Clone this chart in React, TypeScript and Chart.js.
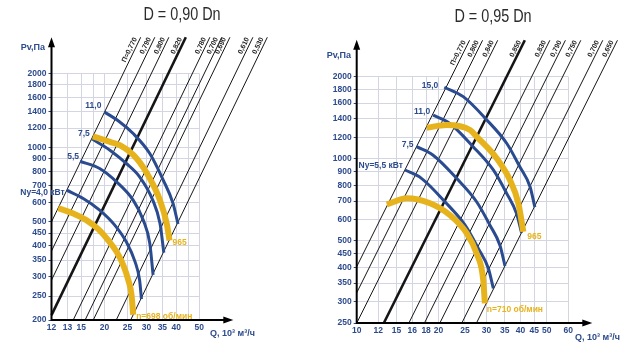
import React, { useEffect, useRef } from "react";
import { Chart, registerables } from "chart.js";
Chart.register(...registerables);

// ================= LEFT PANEL: D = 0,90 Dn =================
const leftTitle = "D = 0,90 Dn";
const leftXTicks = [12, 14, 16, 18, 20, 25, 30, 35, 40, 45, 50];
const leftXTickLabels = ["12", "13", "15", "", "20", "25", "30", "35", "40", "", "50"];
const leftYTicks = [200, 250, 300, 350, 400, 450, 500, 600, 700, 800, 900, 1000, 1200, 1400, 1600, 1800, 2000];
// efficiency rays: flow (10^3 m3/h) where each ray crosses Pv = 2000 Pa
const leftRayLabels = ["П=0,770", "0,790", "0,800", "0,820", "0,780", "0,700", "0,690", "0,610", "0,530"];
const leftRayQ2000 = [24.0, 27.5, 31.5, 37.1, 46.8, 52.5, 56.8, 70.9, 81.5];
const leftRayBold = 3;
const leftRayTopP = 2800;
// speed curves
const leftN698Q = [12.8, 14.8, 16.8, 18.9, 20.7, 22.5, 24.0, 25.2, 26.0, 26.4];
const leftN698P = [568, 541, 508, 466, 422, 378, 334, 290, 252, 210];
const leftN965Q = [17.9, 21.1, 23.2, 27.3, 31.0, 34.2, 36.5, 37.5];
const leftN965P = [1110, 1054, 1022, 903, 750, 612, 493, 420];
// power curves
const leftN110Q = [20.0, 23.2, 26.4, 31.0, 35.3, 38.8, 40.7];
const leftN110P = [1395, 1270, 1140, 946, 738, 594, 490];
const leftN75Q = [17.7, 21.1, 24.7, 28.1, 31.9, 34.2, 35.5];
const leftN75P = [1085, 976, 862, 761, 612, 493, 375];
const leftN55Q = [15.8, 19.1, 22.5, 26.4, 29.1, 31.0, 32.0];
const leftN55P = [880, 823, 726, 612, 508, 409, 305];
const leftN40Q = [13.9, 16.3, 19.1, 22.1, 24.7, 26.9, 28.1, 28.6];
const leftN40P = [672, 622, 558, 485, 415, 344, 290, 243];

// ================= RIGHT PANEL: D = 0,95 Dn =================
const rightTitle = "D = 0,95 Dn";
const rightXTicks = [10, 12, 14, 16, 18, 20, 25, 30, 35, 40, 45, 50, 60];
const rightXTickLabels = ["10", "12", "15", "16", "18", "20", "25", "30", "35", "40", "45", "50", "60"];
const rightYTicks = [250, 300, 350, 400, 450, 500, 600, 700, 800, 900, 1000, 1200, 1400, 1600, 1800, 2000];
const rightRayLabels = ["П=0,770", "0,800", "0,840", "0,850", "0,830", "0,790", "0,750", "0,700", "0,650"];
const rightRayQ2000 = [22.3, 24.9, 28.3, 35.6, 44.0, 50.2, 57.2, 68.9, 78.0];
const rightRayBold = 3;
const rightRayTopP = 2720;
const rightN710Q = [12.9, 15.3, 18.6, 22.0, 25.4, 27.6, 29.2, 29.6];
const rightN710P = [680, 717, 687, 622, 533, 450, 359, 295];
const rightN965Q = [18.1, 21.4, 26.1, 27.6, 32.7, 36.6, 39.3, 41.0];
const rightN965P = [1300, 1330, 1275, 1206, 1005, 836, 687, 540];
const rightN150Q = [21.0, 24.65, 30.1, 35.6, 39.8, 43.4, 45.2];
const rightN150P = [1830, 1690, 1388, 1140, 935, 790, 665];
const rightN110Q = [19.1, 22.0, 26.8, 31.8, 35.6, 38.7, 40.4];
const rightN110P = [1447, 1348, 1108, 910, 747, 630, 535];
const rightN75Q = [16.6, 19.1, 23.3, 27.6, 30.9, 33.6, 35.1];
const rightN75P = [1108, 1031, 848, 696, 571, 483, 405];
const rightN55Q = [15.05, 17.3, 21.1, 25.0, 28.0, 30.5, 31.8];
const rightN55P = [910, 848, 696, 572, 469, 396, 335];

// ================= styles =================
const NAVY = "#2d4b8c";
const BLUE = "#2a4b8f";
const YELLOW = "#e7b31d";
const GRID = "#d3d6e2";
const INK = "#151515";
const FONT = "'Liberation Sans', Arial, sans-serif";

type Curve = {
  q: number[]; p: number[]; label: string; color: string; width: number;
  anchor: "start" | "end"; dx: number; dy: number; align: CanvasTextAlign;
};

type Panel = {
  xMin: number; xMax: number; yMin: number; yMax: number;
  xTicks: number[]; xTickLabels: string[]; yTicks: number[];
  rayLabels: string[]; rayQ2000: number[]; rayBold: number; rayTopP: number;
  curves: Curve[];
  title: string; titleX: number; titleY: number;
  area: { left: number; top: number; right: number; bottom: number };
  yArrow: number; xArrow: number;
  qTitleX: number; qTitleY: number; pTitleX: number; pTitleY: number;
};

const leftPanel: Panel = {
  xMin: 12, xMax: 50, yMin: 200, yMax: 2000,
  xTicks: leftXTicks, xTickLabels: leftXTickLabels, yTicks: leftYTicks,
  rayLabels: leftRayLabels, rayQ2000: leftRayQ2000, rayBold: leftRayBold, rayTopP: leftRayTopP,
  curves: [
    { q: leftN698Q, p: leftN698P, label: "n=698 об/мин", color: YELLOW, width: 6, anchor: "end", dx: 3, dy: 2, align: "left" },
    { q: leftN965Q, p: leftN965P, label: "965", color: YELLOW, width: 6, anchor: "end", dx: 3, dy: 2, align: "left" },
    { q: leftN110Q, p: leftN110P, label: "11,0", color: BLUE, width: 3, anchor: "start", dx: -3, dy: -6, align: "right" },
    { q: leftN75Q, p: leftN75P, label: "7,5", color: BLUE, width: 3, anchor: "start", dx: -2, dy: -5, align: "right" },
    { q: leftN55Q, p: leftN55P, label: "5,5", color: BLUE, width: 3, anchor: "start", dx: -1, dy: -5, align: "right" },
    { q: leftN40Q, p: leftN40P, label: "Ny=4,0 кВт", color: BLUE, width: 3, anchor: "start", dx: -2, dy: 3, align: "right" },
  ],
  title: leftTitle, titleX: 182, titleY: 15,
  area: { left: 51.5, top: 73.3, right: 199.3, bottom: 320 },
  yArrow: 36, xArrow: 34,
  qTitleX: 210, qTitleY: 334, pTitleX: 45, pTitleY: 48,
};

const rightPanel: Panel = {
  xMin: 10, xMax: 60, yMin: 250, yMax: 2000,
  xTicks: rightXTicks, xTickLabels: rightXTickLabels, yTicks: rightYTicks,
  rayLabels: rightRayLabels, rayQ2000: rightRayQ2000, rayBold: rightRayBold, rayTopP: rightRayTopP,
  curves: [
    { q: rightN710Q, p: rightN710P, label: "n=710 об/мин", color: YELLOW, width: 6, anchor: "end", dx: 2, dy: 6, align: "left" },
    { q: rightN965Q, p: rightN965P, label: "965", color: YELLOW, width: 6, anchor: "end", dx: 4, dy: 5, align: "left" },
    { q: rightN150Q, p: rightN150P, label: "15,0", color: BLUE, width: 3, anchor: "start", dx: -6, dy: -2, align: "right" },
    { q: rightN110Q, p: rightN110P, label: "11,0", color: BLUE, width: 3, anchor: "start", dx: -3, dy: -3, align: "right" },
    { q: rightN75Q, p: rightN75P, label: "7,5", color: BLUE, width: 3, anchor: "start", dx: -3, dy: -2, align: "right" },
    { q: rightN55Q, p: rightN55P, label: "Ny=5,5 кВт", color: BLUE, width: 3, anchor: "start", dx: -2, dy: -4, align: "right" },
  ],
  title: rightTitle, titleX: 173, titleY: 17,
  area: { left: 36.7, top: 76.7, right: 248.3, bottom: 323 },
  yArrow: 37, xArrow: 24,
  qTitleX: 255, qTitleY: 338, pTitleX: 31, pTitleY: 56,
};

function rayEnds(q2000: number, panel: Panel) {
  const pAtMin = 2000 * Math.pow(panel.xMin / q2000, 2);
  const start = pAtMin >= panel.yMin
    ? { x: panel.xMin, y: pAtMin }
    : { x: q2000 * Math.sqrt(panel.yMin / 2000), y: panel.yMin };
  const end = { x: q2000 * Math.sqrt(panel.rayTopP / 2000), y: panel.rayTopP };
  return [start, end];
}

function makeExtras(panel: Panel) {
  return {
    id: "extras",
    afterDraw(chart: any) {
      const ctx: CanvasRenderingContext2D = chart.ctx;
      const xs = chart.scales.x;
      const ys = chart.scales.y;
      const { left, top, right, bottom } = chart.chartArea;
      ctx.save();
      // axes with arrows
      ctx.strokeStyle = "#000";
      ctx.fillStyle = "#000";
      ctx.lineWidth = 2;
      const yTip = top - panel.yArrow;
      const xTip = right + panel.xArrow;
      ctx.beginPath();
      ctx.moveTo(left, bottom + 1);
      ctx.lineTo(left, yTip + 6);
      ctx.moveTo(left - 1, bottom);
      ctx.lineTo(xTip - 6, bottom);
      ctx.stroke();
      ctx.beginPath();
      ctx.moveTo(left, yTip);
      ctx.lineTo(left - 3.5, yTip + 10);
      ctx.lineTo(left + 3.5, yTip + 10);
      ctx.closePath();
      ctx.fill();
      ctx.beginPath();
      ctx.moveTo(xTip, bottom);
      ctx.lineTo(xTip - 10, bottom - 3.5);
      ctx.lineTo(xTip - 10, bottom + 3.5);
      ctx.closePath();
      ctx.fill();

      // ray labels
      ctx.fillStyle = "#222";
      ctx.font = `bold 7px ${FONT}`;
      panel.rayQ2000.forEach((q, i) => {
        const [s, e] = rayEnds(q, panel);
        const x0 = xs.getPixelForValue(s.x), y0 = ys.getPixelForValue(s.y);
        const x1 = xs.getPixelForValue(e.x), y1 = ys.getPixelForValue(e.y);
        const ang = Math.atan2(y1 - y0, x1 - x0);
        ctx.save();
        ctx.translate(x1, y1);
        ctx.rotate(ang);
        ctx.textAlign = "right";
        ctx.textBaseline = "bottom";
        ctx.fillText(panel.rayLabels[i], -3, -1);
        ctx.restore();
      });

      // curve labels
      ctx.font = `bold 8.5px ${FONT}`;
      ctx.textBaseline = "middle";
      panel.curves.forEach((c) => {
        const idx = c.anchor === "start" ? 0 : c.q.length - 1;
        const px = xs.getPixelForValue(c.q[idx]);
        const py = ys.getPixelForValue(c.p[idx]);
        ctx.fillStyle = c.color === YELLOW ? YELLOW : NAVY;
        ctx.textAlign = c.align;
        ctx.fillText(c.label, px + c.dx, py + c.dy);
      });

      // title (condensed)
      ctx.save();
      ctx.fillStyle = "#2b2b2b";
      ctx.font = `18px ${FONT}`;
      ctx.textAlign = "center";
      ctx.textBaseline = "middle";
      ctx.translate(panel.titleX, panel.titleY);
      ctx.scale(0.8, 1);
      ctx.fillText(panel.title, 0, 0);
      ctx.restore();

      ctx.fillStyle = NAVY;
      ctx.font = `bold 9px ${FONT}`;
      ctx.textBaseline = "middle";
      ctx.textAlign = "left";
      ctx.fillText("Q, 10³ м³/ч", panel.qTitleX, panel.qTitleY);
      ctx.textAlign = "right";
      ctx.fillText("Pv,Па", panel.pTitleX, panel.pTitleY);
      ctx.restore();
    },
  };
}

function makeChart(canvas: HTMLCanvasElement, panel: Panel) {
  const datasets: any[] = [];
  panel.curves.forEach((c) => {
    datasets.push({
      data: c.q.map((q, i) => ({ x: q, y: c.p[i] })),
      borderColor: c.color,
      borderWidth: c.width,
      pointRadius: 0,
      fill: false,
      cubicInterpolationMode: "monotone",
      borderCapStyle: "butt",
      clip: false,
    });
  });
  panel.rayQ2000.forEach((q, i) => {
    datasets.push({
      data: rayEnds(q, panel),
      borderColor: INK,
      borderWidth: i === panel.rayBold ? 2.6 : 1,
      pointRadius: 0,
      fill: false,
      clip: false,
    });
  });
  const W = 320, H = 350;
  const a = panel.area;
  const xLab = new Map(panel.xTicks.map((v, i) => [v, panel.xTickLabels[i]]));
  return new Chart(canvas, {
    type: "line",
    data: { datasets },
    options: {
      animation: false,
      responsive: false,
      devicePixelRatio: 1,
      events: [],
      layout: { padding: { left: 0, top: a.top, right: W - a.right, bottom: 0 } },
      scales: {
        x: {
          type: "logarithmic",
          min: panel.xMin,
          max: panel.xMax,
          afterBuildTicks: (s: any) => { s.ticks = panel.xTicks.map((v) => ({ value: v })); },
          afterFit: (s: any) => { s.height = H - a.bottom; },
          grid: { color: GRID, lineWidth: 1, drawTicks: false },
          border: { display: false },
          ticks: {
            autoSkip: false, maxRotation: 0, padding: 3,
            color: NAVY, font: { family: FONT, size: 8.5, weight: "bold" },
            callback: (v: any) => xLab.get(Number(v)) ?? "",
          },
        },
        y: {
          type: "logarithmic",
          min: panel.yMin,
          max: panel.yMax,
          afterBuildTicks: (s: any) => { s.ticks = panel.yTicks.map((v) => ({ value: v })); },
          afterFit: (s: any) => { s.width = a.left; },
          grid: { color: GRID, lineWidth: 1, drawTicks: true, tickLength: 3, tickColor: NAVY },
          border: { display: false },
          ticks: {
            autoSkip: false, padding: 2,
            color: NAVY, font: { family: FONT, size: 8.5, weight: "bold" },
            callback: (v: any) => String(v),
          },
        },
      },
      plugins: { legend: { display: false }, tooltip: { enabled: false }, title: { display: false } },
    } as any,
    plugins: [makeExtras(panel)],
  });
}

export default function App() {
  const leftRef = useRef<HTMLCanvasElement>(null);
  const rightRef = useRef<HTMLCanvasElement>(null);
  useEffect(() => {
    const c1 = makeChart(leftRef.current!, leftPanel);
    const c2 = makeChart(rightRef.current!, rightPanel);
    return () => { c1.destroy(); c2.destroy(); };
  }, []);
  return (
    <div style={{ position: "absolute", left: 0, top: 0, width: 640, height: 350, background: "#fff" }}>
      <canvas ref={leftRef} width={320} height={350} style={{ position: "absolute", left: 0, top: 0, width: 320, height: 350 }} />
      <canvas ref={rightRef} width={320} height={350} style={{ position: "absolute", left: 320, top: 0, width: 320, height: 350 }} />
    </div>
  );
}
